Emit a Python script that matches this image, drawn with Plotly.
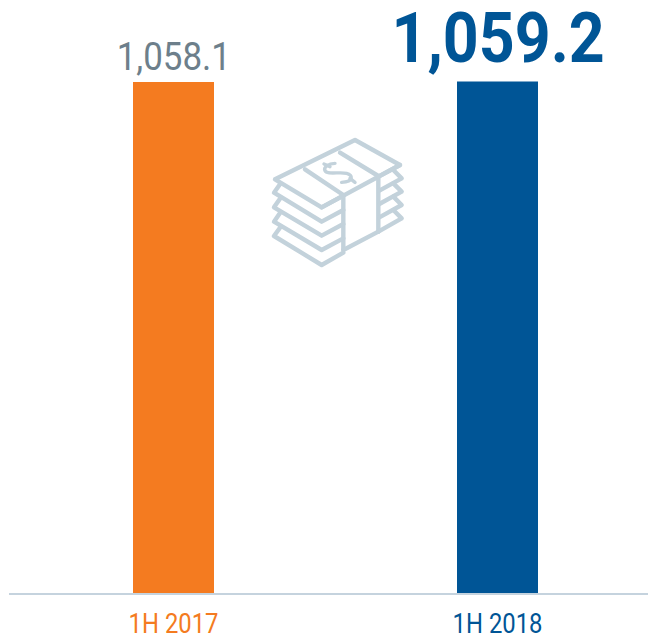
import plotly.graph_objects as go

categories = ["1H 2017", "1H 2018"]
values = [1058.1, 1059.2]
value_labels = ["1,058.1", "1,059.2"]
bar_colors = ["#F47B20", "#005596"]
tick_colors = ["#F47B20", "#005596"]
label_colors = ["#6D7F8B", "#005596"]
label_sizes = [39, 70]
label_weights = ["normal", "bold"]

W, H = 648, 636
FONT = "Roboto"
ICON = "#C3D2DB"
ml, mb = 9, 43

fig = go.Figure(go.Bar(
    x=categories, y=values, marker_color=bar_colors, marker_line_width=0,
    width=0.25, hoverinfo="skip"))

def px(zx):
    return (260 + zx / 3 - ml) / (W - ml)
def py(zy):
    return 1 - (130 + zy / 3) / (H - mb)
def p(a, b):
    return f"{px(a):.5f},{py(b):.5f}"
def path(pts, close=False):
    s = "M" + " L".join(p(a, b) for a, b in pts)
    return s + (" Z" if close else "")

icon_paths = [
    path([(45,148),(285,30),(420,105),(185,232)], True),
    path([(135,118),(250,195),(250,360)]),
    path([(240,68),(355,138),(355,305)]),
    path([(250,360),(355,305)]),
    path([(185,232),(250,197)]),
    path([(355,140),(420,105)]),
    path([(62,160),(42,188),(185,275),(250,240)]),
    path([(62,203),(42,232),(185,317),(250,282)]),
    path([(62,246),(42,275),(185,360),(250,325)]),
    path([(62,290),(42,318),(185,405),(250,368)]),
    path([(400,120),(425,145),(358,182)]),
    path([(400,160),(425,185),(358,222)]),
    path([(400,200),(425,225),(358,262)]),
    path([(400,240),(425,265),(355,305)]),
]
shapes = [dict(type="path", path=q, xref="paper", yref="paper",
               line=dict(color=ICON, width=4.4), layer="above") for q in icon_paths]
S = (f"M{p(225,100)} C{p(205,100)} {p(190,112)} {p(195,122)} "
     f"C{p(200,135)} {p(240,125)} {p(260,130)} "
     f"C{p(280,135)} {p(282,155)} {p(245,157)}")
for q in [S, path([(192,102),(210,110)]), path([(270,145),(285,157)])]:
    shapes.append(dict(type="path", path=q, xref="paper", yref="paper",
                       line=dict(color=ICON, width=3.4), layer="above"))

annotations = [dict(x=c, y=v, xref="x", yref="y", text=t, showarrow=False,
                    yanchor="bottom", yshift=0,
                    font=dict(family=FONT, size=s, color=col, weight=w))
               for c, v, t, s, col, w in zip(categories, values, value_labels,
                                             label_sizes, label_colors, label_weights)]

fig.update_layout(
    width=W, height=H, margin=dict(l=ml, r=0, t=0, b=mb, pad=0),
    paper_bgcolor="white", plot_bgcolor="white", showlegend=False,
    shapes=shapes, annotations=annotations,
    xaxis=dict(range=[-0.5077, 1.4645], type="category", tickvals=categories,
               ticktext=[f'<span style="color:{c}">{t}</span>' for c, t in zip(tick_colors, categories)],
               tickfont=dict(family=FONT, size=28), ticks="outside", ticklen=4,
               tickcolor="rgba(0,0,0,0)", showline=True, linecolor="#C5D3DE", linewidth=2,
               showgrid=False, zeroline=False, automargin=False),
    yaxis=dict(range=[0, 1227.9], visible=False, showgrid=False, zeroline=False),
)
squeeze = """
document.body.style.margin='0';
function squeeze(sel, k){
  document.querySelectorAll(sel).forEach(function(t){
    var w = t.getComputedTextLength();
    t.setAttribute('textLength', (w*k).toFixed(1));
    t.setAttribute('lengthAdjust', 'spacingAndGlyphs');
  });
}
squeeze('.annotation-text', 0.895);
squeeze('.xtick text', 0.85);
document.querySelectorAll('.shapelayer path').forEach(function(s){
  s.style.strokeLinejoin='round'; s.style.strokeLinecap='round';
});
"""
fig.write_html("out.html", config=dict(displayModeBar=False), post_script=squeeze)
